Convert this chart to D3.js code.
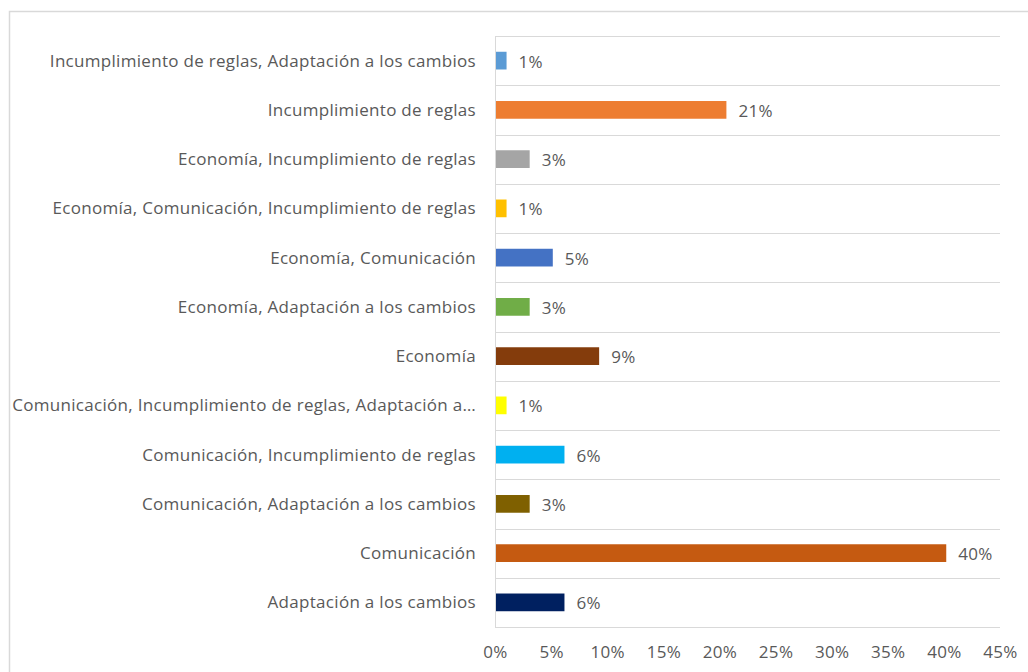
<!DOCTYPE html>
<html><head><meta charset="utf-8">
<script src="https://cdn.jsdelivr.net/npm/d3@7"></script>
<style>body{margin:0;background:#fff}svg{display:block}text{font-family:"Open Sans",Arial,sans-serif;fill:#595959}</style>
</head><body><svg id="c" width="1028" height="672"></svg>
<script>
const categories = [
  "Incumplimiento de reglas, Adaptación a los cambios",
  "Incumplimiento de reglas",
  "Economía, Incumplimiento de reglas",
  "Economía, Comunicación, Incumplimiento de reglas",
  "Economía, Comunicación",
  "Economía, Adaptación a los cambios",
  "Economía",
  "Comunicación, Incumplimiento de reglas, Adaptación a…",
  "Comunicación, Incumplimiento de reglas",
  "Comunicación, Adaptación a los cambios",
  "Comunicación",
  "Adaptación a los cambios"
];
const values = [1.03, 20.62, 3.09, 1.03, 5.15, 3.09, 9.28, 1.03, 6.19, 3.09, 40.21, 6.19];
const valueLabels = ["1%","21%","3%","1%","5%","3%","9%","1%","6%","3%","40%","6%"];
const colors = ["#5B9BD5","#ED7D31","#A5A5A5","#FFC000","#4472C4","#70AD47","#843C0C","#FFFF00","#00B0F0","#7F6000","#C55A11","#002060"];
const tickValues = [0,5,10,15,20,25,30,35,40,45];

const svg = d3.select("#c");
svg.append("rect").attr("x",9.5).attr("y",11.5).attr("width",1030).attr("height",680)
  .attr("fill","#fff").attr("stroke","#d9d9d9").attr("stroke-width",1.5);

const x = d3.scaleLinear().domain([0,45]).range([495,1000]);
const y = d3.scaleBand().domain(categories).range([36,627]).paddingInner(0.64).paddingOuter(0.32);
const yFull = d3.scaleBand().domain(categories).range([36,627]);

// horizontal separators
const seps = categories.map(c => yFull(c)).concat([627]);
svg.append("g").selectAll("line").data(seps).join("line")
  .attr("x1",x(0)).attr("x2",x(45)).attr("y1",d=>Math.round(d)+0.5).attr("y2",d=>Math.round(d)+0.5)
  .attr("stroke","#d9d9d9").attr("stroke-width",1);
svg.append("line").attr("x1",x(0)+0.5).attr("x2",x(0)+0.5).attr("y1",36).attr("y2",627)
  .attr("stroke","#d9d9d9");

// bars
svg.append("g").selectAll("rect").data(categories).join("rect")
  .attr("x",x(0)+1).attr("y",c=>y(c)).attr("height",y.bandwidth())
  .attr("width",(c,i)=>x(values[i])-x(0)-1).attr("fill",(c,i)=>colors[i]);

// value labels
svg.append("g").selectAll("text").data(categories).join("text")
  .attr("x",(c,i)=>x(values[i])+12).attr("y",c=>yFull(c)+yFull.bandwidth()/2+1)
  .attr("dy","0.35em").attr("font-size",17).attr("letter-spacing",0.3).text((c,i)=>valueLabels[i]);

// category labels
svg.append("g").selectAll("text").data(categories).join("text")
  .attr("x",476).attr("y",c=>yFull(c)+yFull.bandwidth()/2).attr("dy","0.35em")
  .attr("text-anchor","end").attr("font-size",17).attr("letter-spacing",0.3).text(c=>c);

// x axis tick labels
const ax = svg.append("g").attr("transform","translate(0,627)")
  .call(d3.axisBottom(x).tickValues(tickValues).tickSize(0).tickPadding(19).tickFormat(d=>d+"%"));
ax.select(".domain").remove();
ax.selectAll("text").attr("font-size",17).attr("letter-spacing",0.3).style("fill","#595959")
  .attr("font-family","Open Sans, Arial, sans-serif");
</script></body></html>
